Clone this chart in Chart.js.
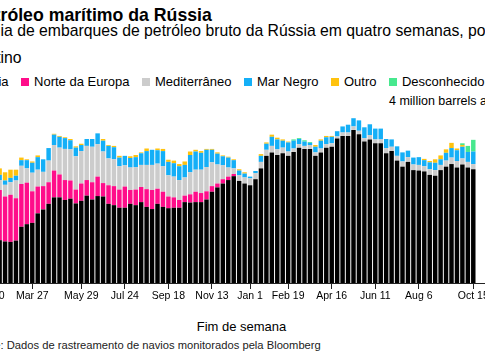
<!DOCTYPE html>
<html>
<head>
<meta charset="utf-8">
<script src="https://cdn.jsdelivr.net/npm/chart.js@4.4.0/dist/chart.umd.min.js"></script>
<style>
  body {
    margin: 0;
    width: 485px;
    height: 360px;
    overflow: hidden;
    position: relative;
    background: #fff;
    color: #000;
    font-family: 'Liberation Sans', Arial, sans-serif;
  }
  .txt { position: absolute; white-space: nowrap; line-height: 1; }
  #title { font-weight: bold; font-size: 17.7px; top: 7px; }
  .sub { font-size: 15.75px; }
  #sub1 { top: 23px; }
  #sub2 { top: 50px; }
  #legend { top: 75px; font-size: 13px; display: flex; }
  #legend .item { display: inline-flex; align-items: center; margin-right: 12.5px; }
  #legend .sw { display: inline-block; width: 8px; height: 8px; margin-right: 5px; }
  #unit { font-size: 12.5px; top: 95px; left: 389px; }
  #xtitle { font-size: 13px; top: 320px; left: 0; width: 483px; text-align: center; }
  #source { font-size: 11.2px; top: 340px; color: #222; }
  #chart { position: absolute; left: -14px; top: 100px; }
</style>
</head>
<body>
<div class="txt" id="title">Fluxo de petróleo marítimo da Rússia</div>
<div class="txt sub" id="sub1">Média de embarques de petróleo bruto da Rússia em quatro semanas, por</div>
<div class="txt sub" id="sub2">destino</div>
<div class="txt" id="legend"></div>
<div class="txt" id="unit">4 million barrels a day</div>
<canvas id="chart" width="504" height="210"></canvas>
<div class="txt" id="xtitle">Fim de semana</div>
<div class="txt" id="source">Fonte: Dados de rastreamento de navios monitorados pela Bloomberg</div>
<script>
// weekly 4-week averages, million barrels a day, week ending Sunday
const weeks = [];
for (let d = new Date(Date.UTC(2022, 0, 30)); weeks.length < 90; d.setUTCDate(d.getUTCDate() + 7)) {
  weeks.push(d.toISOString().slice(0, 10));
}

const tickWeeks = ['2022-01-30', '2022-03-27', '2022-05-29', '2022-07-24', '2022-09-18', '2022-11-13',
  '2023-01-01', '2023-02-19', '2023-04-16', '2023-06-11', '2023-08-06', '2023-10-15'];
const tickLabels = ['Jan 30', 'Mar 27', 'May 29', 'Jul 24', 'Sep 18', 'Nov 13',
  'Jan 1', 'Feb 19', 'Apr 16', 'Jun 11', 'Aug 6', 'Oct 15'];

const asia = [1.00, 0.98, 0.99, 0.96, 0.95, 0.98, 1.30, 1.36, 1.39, 1.61,
  1.70, 1.83, 1.98, 1.98, 1.92, 1.95, 1.84, 1.90, 2.02, 1.93,
  2.01, 2.00, 1.83, 1.80, 1.74, 1.74, 1.83, 1.80, 1.87, 1.76,
  1.71, 1.83, 1.76, 1.73, 1.74, 1.74, 1.87, 1.86, 1.87, 1.87,
  1.93, 2.11, 2.21, 2.30, 2.38, 2.47, 2.36, 2.30, 2.26, 2.40,
  2.65, 2.94, 3.02, 2.96, 3.00, 2.94, 3.03, 3.13, 3.10, 3.10,
  2.94, 3.02, 3.13, 3.15, 3.34, 3.40, 3.40, 3.54, 3.44, 3.27,
  3.32, 3.23, 3.23, 3.00, 3.05, 2.83, 2.69, 2.80, 2.61, 2.60,
  2.58, 2.50, 2.48, 2.61, 2.69, 2.75, 2.67, 2.74, 2.67, 2.63];

const northEurope = [1.15, 1.12, 1.16, 1.04, 1.09, 0.98, 0.99, 0.96, 0.73, 0.62,
  0.54, 0.50, 0.62, 0.53, 0.46, 0.42, 0.32, 0.40, 0.36, 0.40,
  0.45, 0.31, 0.43, 0.44, 0.42, 0.49, 0.32, 0.36, 0.35, 0.41,
  0.44, 0.35, 0.35, 0.27, 0.24, 0.18, 0.15, 0.19, 0.24, 0.21,
  0.19, 0.13, 0.09, 0.10, 0.08, 0.05, 0, 0, 0, 0,
  0, 0, 0, 0, 0, 0, 0, 0, 0, 0,
  0, 0, 0, 0, 0, 0, 0, 0, 0, 0,
  0, 0, 0, 0, 0, 0, 0, 0, 0, 0,
  0, 0, 0, 0, 0, 0, 0, 0, 0, 0];

const mediterranean = [0.25, 0.24, 0.23, 0.27, 0.29, 0.41, 0.42, 0.33, 0.43, 0.39,
  0.33, 0.50, 0.59, 0.62, 0.72, 0.72, 0.77, 0.75, 0.79, 0.82,
  0.75, 0.73, 0.62, 0.62, 0.54, 0.49, 0.52, 0.52, 0.51, 0.56,
  0.58, 0.58, 0.59, 0.49, 0.48, 0.46, 0.42, 0.51, 0.51, 0.54,
  0.56, 0.55, 0.44, 0.32, 0.21, 0.13, 0.13, 0.14, 0.16, 0.14,
  0.15, 0.14, 0.15, 0.13, 0.13, 0.10, 0.08, 0.08, 0.07, 0.09,
  0.08, 0.09, 0.08, 0.08, 0.05, 0.08, 0.08, 0.08, 0.08, 0.08,
  0.10, 0.09, 0.09, 0.12, 0.10, 0.11, 0.12, 0.11, 0.13, 0.13,
  0.12, 0.13, 0.13, 0.12, 0.14, 0.15, 0.15, 0.14, 0.13, 0.12];

const blackSea = [0.12, 0.11, 0.12, 0.10, 0.10, 0.11, 0.13, 0.19, 0.23, 0.29,
  0.29, 0.29, 0.24, 0.25, 0.25, 0.21, 0.20, 0.14, 0.16, 0.18,
  0.25, 0.25, 0.29, 0.28, 0.20, 0.22, 0.22, 0.23, 0.27, 0.32,
  0.35, 0.31, 0.35, 0.31, 0.31, 0.32, 0.29, 0.40, 0.42, 0.39,
  0.40, 0.29, 0.25, 0.21, 0.23, 0.19, 0.11, 0.09, 0.04, 0.05,
  0.14, 0.14, 0.21, 0.23, 0.16, 0.21, 0.18, 0.12, 0.10, 0.05,
  0.13, 0.18, 0.16, 0.15, 0.12, 0.14, 0.18, 0.19, 0.24, 0.25,
  0.25, 0.25, 0.25, 0.21, 0.17, 0.22, 0.21, 0.15, 0.16, 0.18,
  0.14, 0.16, 0.17, 0.13, 0.18, 0.22, 0.25, 0.27, 0.23, 0.29];

const other = [0.12, 0.14, 0.15, 0.19, 0.19, 0.14, 0.06, 0.02, 0.03, 0.04,
  0, 0, 0.02, 0.02, 0.02, 0.03, 0.03, 0.03, 0, 0,
  0, 0.04, 0.02, 0.03, 0.04, 0, 0.04, 0.05, 0.02, 0.06,
  0, 0.04, 0.05, 0.05, 0.06, 0.05, 0.08, 0.08, 0.04, 0.04,
  0.02, 0.02, 0.03, 0.02, 0.02, 0.02, 0.03, 0.03, 0, 0,
  0.04, 0.03, 0.05, 0.04, 0.03, 0.02, 0, 0, 0, 0,
  0.04, 0.03, 0.03, 0.02, 0, 0, 0, 0, 0, 0,
  0, 0, 0, 0, 0, 0, 0, 0, 0, 0,
  0.03, 0.03, 0.08, 0.09, 0.08, 0.12, 0.04, 0.04, 0, 0];

const unknown = [0, 0, 0, 0, 0, 0, 0, 0, 0, 0,
  0, 0, 0, 0, 0, 0, 0, 0, 0, 0,
  0, 0, 0, 0, 0, 0, 0, 0, 0, 0,
  0, 0, 0, 0, 0, 0, 0, 0, 0, 0,
  0, 0, 0, 0, 0, 0, 0, 0, 0, 0,
  0, 0, 0, 0, 0, 0, 0.03, 0.02, 0.03, 0.02,
  0, 0, 0, 0, 0, 0, 0, 0, 0, 0,
  0, 0, 0, 0, 0, 0, 0, 0, 0, 0,
  0, 0, 0, 0, 0, 0, 0, 0.04, 0.14, 0.27];

const seriesNames = ['Ásia', 'Norte da Europa', 'Mediterrâneo', 'Mar Negro', 'Outro', 'Desconhecido'];
const seriesColors = ['#000000', '#ff0d8a', '#cccccc', '#14aff7', '#ffc20e', '#47e88e'];
const seriesData = [asia, northEurope, mediterranean, blackSea, other, unknown];

// text clipped on the left edge, like the cropped original
const measureCtx = document.createElement('canvas').getContext('2d');
function textWidth(text, font) {
  measureCtx.font = font;
  return measureCtx.measureText(text).width;
}
const ff = "'Liberation Sans', Arial, sans-serif";
document.getElementById('title').style.left = (0.5 - textWidth('Fluxo de pet', 'bold 17.7px ' + ff)) + 'px';
document.getElementById('sub1').style.left = (0.5 - textWidth('Méd', '15.75px ' + ff)) + 'px';
document.getElementById('sub2').style.left = (0.5 - textWidth('dest', '15.75px ' + ff)) + 'px';
document.getElementById('source').style.left = (0.5 - textWidth('Fonte', '11.2px ' + ff)) + 'px';

const legend = document.getElementById('legend');
seriesNames.forEach((name, i) => {
  const item = document.createElement('span');
  item.className = 'item';
  const sw = document.createElement('span');
  sw.className = 'sw';
  sw.style.background = seriesColors[i];
  item.appendChild(sw);
  item.appendChild(document.createTextNode(name));
  legend.appendChild(item);
});
legend.style.left = (8.5 - 13 - textWidth('Ásia', '13px ' + ff)) + 'px';

const tickIndexes = tickWeeks.map((w) => weeks.indexOf(w));

const axisExtend = {
  id: 'axisExtend',
  afterDraw(chart) {
    const { ctx, chartArea, scales } = chart;
    const y = Math.round(scales.y.getPixelForValue(0)) + 0.5;
    ctx.save();
    ctx.strokeStyle = '#222';
    ctx.lineWidth = 1;
    ctx.beginPath();
    ctx.moveTo(chartArea.right, y);
    ctx.lineTo(chart.width, y);
    ctx.stroke();
    ctx.restore();
  },
};

new Chart(document.getElementById('chart'), {
  type: 'bar',
  data: {
    labels: weeks,
    datasets: seriesData.map((data, i) => ({
      label: seriesNames[i],
      data: data,
      backgroundColor: seriesColors[i],
      borderWidth: 0,
      barPercentage: 0.82,
      categoryPercentage: 1,
    })),
  },
  options: {
    responsive: false,
    animation: false,
    devicePixelRatio: 1,
    layout: {
      autoPadding: false,
      padding: { top: 10, right: 14, left: 0, bottom: 0 },
    },
    plugins: {
      legend: { display: false },
      tooltip: { enabled: false },
    },
    scales: {
      x: {
        stacked: true,
        offset: true,
        grid: {
          offset: false,
          drawOnChartArea: false,
          drawTicks: true,
          tickLength: 6,
          tickWidth: 1,
          tickColor: (c) => (tickIndexes.includes(c.index) ? '#222' : 'rgba(0,0,0,0)'),
        },
        border: { display: true, color: '#222', width: 1 },
        ticks: {
          autoSkip: false,
          maxRotation: 0,
          padding: 1,
          color: '#000',
          font: { family: 'Liberation Sans', size: 10.5 },
          callback: (value, index) => {
            const k = tickIndexes.indexOf(index);
            return k >= 0 ? tickLabels[k] : '';
          },
        },
        afterFit: (scale) => {
          scale.height = 27;
          scale.paddingLeft = 0;
          scale.paddingRight = 0;
        },
      },
      y: {
        stacked: true,
        display: false,
        min: 0,
        max: 4,
      },
    },
  },
  plugins: [axisExtend],
});
</script>
</body>
</html>
